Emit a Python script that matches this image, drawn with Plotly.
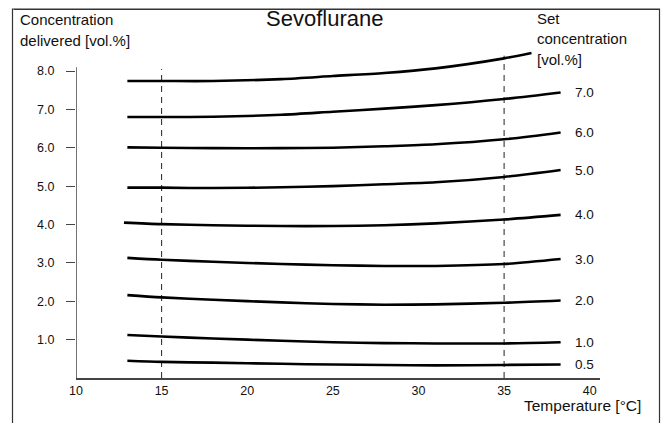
import plotly.graph_objects as go

# temperature [degC] sample points along each curve
temps = [13, 15, 18, 22, 25, 28, 31, 35, 38.3]
temps_top = [13, 15, 18, 22, 25, 28, 31, 35, 36.6]
temps_4 = [12.8, 15, 18, 22, 25, 28, 31, 35, 38.3]

# concentration delivered [vol.%] per set concentration
conc_8 = [7.74, 7.74, 7.74, 7.79, 7.87, 7.95, 8.07, 8.33, 8.47]
conc_7 = [6.80, 6.80, 6.81, 6.86, 6.94, 7.02, 7.11, 7.27, 7.44]
conc_6 = [6.01, 6.00, 5.99, 5.99, 6.00, 6.04, 6.09, 6.22, 6.40]
conc_5 = [4.96, 4.96, 4.95, 4.97, 5.00, 5.05, 5.10, 5.24, 5.42]
conc_4 = [4.05, 4.01, 3.98, 3.96, 3.96, 3.98, 4.03, 4.13, 4.25]
conc_3 = [3.13, 3.08, 3.03, 2.97, 2.94, 2.92, 2.92, 2.97, 3.10]
conc_2 = [2.16, 2.10, 2.04, 1.97, 1.93, 1.91, 1.92, 1.96, 2.02]
conc_1 = [1.12, 1.08, 1.03, 0.97, 0.93, 0.91, 0.90, 0.90, 0.93]
conc_05 = [0.45, 0.42, 0.40, 0.37, 0.35, 0.34, 0.33, 0.34, 0.35]

set_labels = ["7.0", "6.0", "5.0", "4.0", "3.0", "2.0", "1.0", "0.5"]

ref_temps = [15, 35]
ref_tops = [8.05, 8.4]

y_ticks = [1, 2, 3, 4, 5, 6, 7, 8]
x_ticks = [10, 15, 20, 25, 30, 35, 40]

FONT = "Liberation Sans, Arial, Helvetica, sans-serif"
W, H = 663, 423
L, R, T, B = 76, 63, 48, 45
X_RANGE = [10, 40.6]
Y_RANGE = [0, 8.6]


def px_x(px):
    return (px - L) / (W - L - R)


def px_y(py):
    return (H - B - py) / (H - T - B)


fig = go.Figure()

for xv, top in zip(ref_temps, ref_tops):
    fig.add_trace(go.Scatter(x=[xv, xv], y=[0, top], mode="lines",
                             line={"color": "#222", "width": 1, "dash": "6px,5px"},
                             hoverinfo="skip", showlegend=False))

curves = [
    (temps_top, conc_8, None),
    (temps, conc_7, set_labels[0]),
    (temps, conc_6, set_labels[1]),
    (temps, conc_5, set_labels[2]),
    (temps_4, conc_4, set_labels[3]),
    (temps, conc_3, set_labels[4]),
    (temps, conc_2, set_labels[5]),
    (temps, conc_1, set_labels[6]),
    (temps, conc_05, set_labels[7]),
]
for xs, ys, label in curves:
    fig.add_trace(go.Scatter(x=xs, y=ys, mode="lines",
                             line={"color": "black", "width": 2.6, "shape": "spline", "smoothing": 0.8},
                             showlegend=False))
    if label:
        fig.add_annotation(x=39.0, y=ys[-1], text=label, showarrow=False, xanchor="left",
                           yanchor="middle", font={"size": 13.5})

# y axis line stops a little above 8.0
fig.add_shape(type="line", xref="x", yref="y", x0=10, x1=10, y0=0, y1=8.1,
              line={"color": "#444", "width": 1.5})

# outer frame
fig.add_shape(type="rect", xref="paper", yref="paper", layer="below",
              x0=px_x(12.5), y0=px_y(430), x1=px_x(659.5), y1=px_y(9),
              line={"color": "#333", "width": 1.2}, fillcolor="rgba(0,0,0,0)")
# top edge of the frame drawn again as an arrow-less annotation line
fig.add_annotation(xref="paper", yref="paper", x=px_x(659.5), y=px_y(9.5), text="",
                   showarrow=True, arrowhead=0, arrowwidth=1.2, arrowcolor="#333",
                   axref="pixel", ayref="pixel", ax=-647, ay=0, standoff=0, startstandoff=0)

text_items = [
    ("Sevoflurane", 324, 18, "center", 22),
    ("Concentration", 18, 20, "left", 15),
    ("delivered [vol.%]", 18, 41, "left", 15),
    ("Set", 535, 18, "left", 15),
    ("concentration", 535, 39, "left", 15),
    ("[vol.%]", 535, 59, "left", 15),
    ("Temperature [°C]", 643, 405, "right", 15.5),
]
for txt, x, y, anchor, size in text_items:
    fig.add_annotation(xref="paper", yref="paper", x=px_x(x), y=px_y(y), text=txt,
                       showarrow=False, xanchor=anchor, yanchor="middle", font={"size": size})

fig.update_layout(
    width=W, height=H,
    margin={"l": L, "r": R, "t": T, "b": B},
    paper_bgcolor="white", plot_bgcolor="rgba(0,0,0,0)",
    font={"family": FONT, "color": "#111", "size": 13},
    xaxis={"range": X_RANGE, "tickvals": x_ticks, "showgrid": False, "zeroline": False,
           "showline": True, "linecolor": "#444", "linewidth": 1.5,
           "ticks": "", "tickfont": {"size": 12.5}},
    yaxis={"range": Y_RANGE, "tickvals": y_ticks, "tickformat": ".1f", "showgrid": False,
           "zeroline": False, "showline": False, "ticks": "outside", "ticklen": 9,
           "tickcolor": "#444", "tickwidth": 1.2, "ticklabelstandoff": 9, "tickfont": {"size": 12.5}},
)

fig.write_html("out.html", config={"displayModeBar": False},
               post_script="document.body.style.margin='0';")
